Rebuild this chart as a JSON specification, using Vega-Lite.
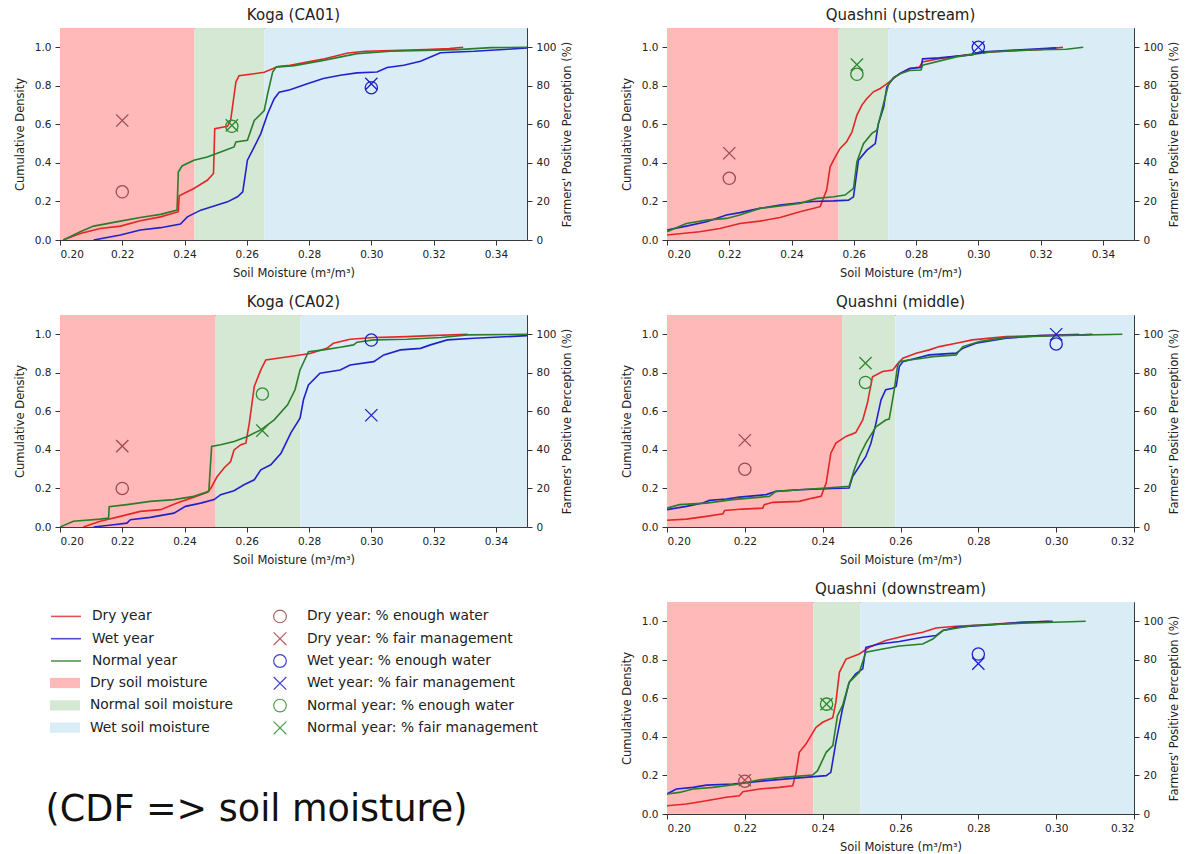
{
  "$schema": "https://vega.github.io/schema/vega-lite/v6.json",
  "background": "white",
  "padding": {"left": 13, "top": 7, "right": 5, "bottom": 5},
  "columns": 2,
  "spacing": {"row": 75, "column": 140},
  "bounds": "flush",
  "datasets": {
    "bands": [
      {"p": "CA01", "b": "Dry soil moisture", "x0": 0.2, "x1": 0.2432},
      {"p": "CA01", "b": "Normal soil moisture", "x0": 0.2432, "x1": 0.2657},
      {"p": "CA01", "b": "Wet soil moisture", "x0": 0.2657, "x1": 0.35},
      {"p": "UP", "b": "Dry soil moisture", "x0": 0.2, "x1": 0.2551},
      {"p": "UP", "b": "Normal soil moisture", "x0": 0.2551, "x1": 0.2711},
      {"p": "UP", "b": "Wet soil moisture", "x0": 0.2711, "x1": 0.35},
      {"p": "CA02", "b": "Dry soil moisture", "x0": 0.2, "x1": 0.25},
      {"p": "CA02", "b": "Normal soil moisture", "x0": 0.25, "x1": 0.2772},
      {"p": "CA02", "b": "Wet soil moisture", "x0": 0.2772, "x1": 0.35},
      {"p": "MID", "b": "Dry soil moisture", "x0": 0.2, "x1": 0.245},
      {"p": "MID", "b": "Normal soil moisture", "x0": 0.245, "x1": 0.2587},
      {"p": "MID", "b": "Wet soil moisture", "x0": 0.2587, "x1": 0.32},
      {"p": "DOWN", "b": "Dry soil moisture", "x0": 0.2, "x1": 0.2376},
      {"p": "DOWN", "b": "Normal soil moisture", "x0": 0.2376, "x1": 0.2497},
      {"p": "DOWN", "b": "Wet soil moisture", "x0": 0.2497, "x1": 0.32}
    ],
    "marks": [
      {"p": "CA01", "m": "Dry year: % enough water", "x": 0.22, "v": 25},
      {"p": "CA01", "m": "Dry year: % fair management", "x": 0.22, "v": 62},
      {"p": "CA01", "m": "Wet year: % enough water", "x": 0.30, "v": 79},
      {"p": "CA01", "m": "Wet year: % fair management", "x": 0.30, "v": 81},
      {"p": "CA01", "m": "Normal year: % enough water", "x": 0.2552, "v": 59},
      {"p": "CA01", "m": "Normal year: % fair management", "x": 0.2552, "v": 59.5},
      {"p": "UP", "m": "Dry year: % enough water", "x": 0.22, "v": 32},
      {"p": "UP", "m": "Dry year: % fair management", "x": 0.22, "v": 45},
      {"p": "UP", "m": "Wet year: % enough water", "x": 0.30, "v": 100},
      {"p": "UP", "m": "Wet year: % fair management", "x": 0.30, "v": 100},
      {"p": "UP", "m": "Normal year: % enough water", "x": 0.261, "v": 86},
      {"p": "UP", "m": "Normal year: % fair management", "x": 0.261, "v": 91},
      {"p": "CA02", "m": "Dry year: % enough water", "x": 0.22, "v": 20},
      {"p": "CA02", "m": "Dry year: % fair management", "x": 0.22, "v": 42},
      {"p": "CA02", "m": "Wet year: % enough water", "x": 0.30, "v": 97},
      {"p": "CA02", "m": "Wet year: % fair management", "x": 0.30, "v": 58},
      {"p": "CA02", "m": "Normal year: % enough water", "x": 0.265, "v": 69},
      {"p": "CA02", "m": "Normal year: % fair management", "x": 0.265, "v": 50},
      {"p": "MID", "m": "Dry year: % enough water", "x": 0.22, "v": 30},
      {"p": "MID", "m": "Dry year: % fair management", "x": 0.22, "v": 45},
      {"p": "MID", "m": "Wet year: % enough water", "x": 0.30, "v": 95},
      {"p": "MID", "m": "Wet year: % fair management", "x": 0.30, "v": 100},
      {"p": "MID", "m": "Normal year: % enough water", "x": 0.251, "v": 75},
      {"p": "MID", "m": "Normal year: % fair management", "x": 0.251, "v": 85},
      {"p": "DOWN", "m": "Dry year: % enough water", "x": 0.22, "v": 17},
      {"p": "DOWN", "m": "Dry year: % fair management", "x": 0.22, "v": 17.5},
      {"p": "DOWN", "m": "Wet year: % enough water", "x": 0.28, "v": 83},
      {"p": "DOWN", "m": "Wet year: % fair management", "x": 0.28, "v": 78},
      {"p": "DOWN", "m": "Normal year: % enough water", "x": 0.241, "v": 57},
      {"p": "DOWN", "m": "Normal year: % fair management", "x": 0.241, "v": 57}
    ],
    "cdf": [
      {"p":"CA01","s":"Dry year","x":0.2010,"y":0},
      {"p":"CA01","s":"Dry year","x":0.2065,"y":0.034},
      {"p":"CA01","s":"Dry year","x":0.2129,"y":0.06},
      {"p":"CA01","s":"Dry year","x":0.2194,"y":0.072},
      {"p":"CA01","s":"Dry year","x":0.2258,"y":0.10},
      {"p":"CA01","s":"Dry year","x":0.2323,"y":0.12},
      {"p":"CA01","s":"Dry year","x":0.2380,"y":0.147},
      {"p":"CA01","s":"Dry year","x":0.2383,"y":0.23},
      {"p":"CA01","s":"Dry year","x":0.2430,"y":0.267},
      {"p":"CA01","s":"Dry year","x":0.2473,"y":0.31},
      {"p":"CA01","s":"Dry year","x":0.2493,"y":0.345},
      {"p":"CA01","s":"Dry year","x":0.2497,"y":0.578},
      {"p":"CA01","s":"Dry year","x":0.2538,"y":0.59},
      {"p":"CA01","s":"Dry year","x":0.2548,"y":0.62},
      {"p":"CA01","s":"Dry year","x":0.2565,"y":0.82},
      {"p":"CA01","s":"Dry year","x":0.2575,"y":0.852},
      {"p":"CA01","s":"Dry year","x":0.2656,"y":0.87},
      {"p":"CA01","s":"Dry year","x":0.2700,"y":0.90},
      {"p":"CA01","s":"Dry year","x":0.2739,"y":0.907},
      {"p":"CA01","s":"Dry year","x":0.2806,"y":0.927},
      {"p":"CA01","s":"Dry year","x":0.2850,"y":0.94},
      {"p":"CA01","s":"Dry year","x":0.2925,"y":0.97},
      {"p":"CA01","s":"Dry year","x":0.2980,"y":0.979},
      {"p":"CA01","s":"Dry year","x":0.3175,"y":0.988},
      {"p":"CA01","s":"Dry year","x":0.3250,"y":0.993},
      {"p":"CA01","s":"Dry year","x":0.3295,"y":1.0},
      {"p":"CA01","s":"Wet year","x":0.2108,"y":0},
      {"p":"CA01","s":"Wet year","x":0.2194,"y":0.026},
      {"p":"CA01","s":"Wet year","x":0.2258,"y":0.052},
      {"p":"CA01","s":"Wet year","x":0.2323,"y":0.064},
      {"p":"CA01","s":"Wet year","x":0.2387,"y":0.083},
      {"p":"CA01","s":"Wet year","x":0.2409,"y":0.12},
      {"p":"CA01","s":"Wet year","x":0.2452,"y":0.155},
      {"p":"CA01","s":"Wet year","x":0.2495,"y":0.176},
      {"p":"CA01","s":"Wet year","x":0.2538,"y":0.198},
      {"p":"CA01","s":"Wet year","x":0.2570,"y":0.224},
      {"p":"CA01","s":"Wet year","x":0.2587,"y":0.25},
      {"p":"CA01","s":"Wet year","x":0.2602,"y":0.414},
      {"p":"CA01","s":"Wet year","x":0.2624,"y":0.483},
      {"p":"CA01","s":"Wet year","x":0.2645,"y":0.552},
      {"p":"CA01","s":"Wet year","x":0.2667,"y":0.655},
      {"p":"CA01","s":"Wet year","x":0.2688,"y":0.733},
      {"p":"CA01","s":"Wet year","x":0.2704,"y":0.767},
      {"p":"CA01","s":"Wet year","x":0.2739,"y":0.78},
      {"p":"CA01","s":"Wet year","x":0.2792,"y":0.81},
      {"p":"CA01","s":"Wet year","x":0.2846,"y":0.838},
      {"p":"CA01","s":"Wet year","x":0.2900,"y":0.855},
      {"p":"CA01","s":"Wet year","x":0.2954,"y":0.867},
      {"p":"CA01","s":"Wet year","x":0.3018,"y":0.872},
      {"p":"CA01","s":"Wet year","x":0.3051,"y":0.895},
      {"p":"CA01","s":"Wet year","x":0.3104,"y":0.907},
      {"p":"CA01","s":"Wet year","x":0.3158,"y":0.927},
      {"p":"CA01","s":"Wet year","x":0.3190,"y":0.95},
      {"p":"CA01","s":"Wet year","x":0.3222,"y":0.972},
      {"p":"CA01","s":"Wet year","x":0.3330,"y":0.979},
      {"p":"CA01","s":"Wet year","x":0.3438,"y":0.99},
      {"p":"CA01","s":"Wet year","x":0.3500,"y":0.997},
      {"p":"CA01","s":"Normal year","x":0.2011,"y":0},
      {"p":"CA01","s":"Normal year","x":0.2065,"y":0.043},
      {"p":"CA01","s":"Normal year","x":0.2108,"y":0.072},
      {"p":"CA01","s":"Normal year","x":0.2194,"y":0.098},
      {"p":"CA01","s":"Normal year","x":0.2258,"y":0.117},
      {"p":"CA01","s":"Normal year","x":0.2323,"y":0.133},
      {"p":"CA01","s":"Normal year","x":0.2376,"y":0.155},
      {"p":"CA01","s":"Normal year","x":0.2380,"y":0.353},
      {"p":"CA01","s":"Normal year","x":0.2392,"y":0.384},
      {"p":"CA01","s":"Normal year","x":0.2430,"y":0.414},
      {"p":"CA01","s":"Normal year","x":0.2473,"y":0.431},
      {"p":"CA01","s":"Normal year","x":0.2516,"y":0.457},
      {"p":"CA01","s":"Normal year","x":0.2559,"y":0.483},
      {"p":"CA01","s":"Normal year","x":0.2565,"y":0.509},
      {"p":"CA01","s":"Normal year","x":0.2602,"y":0.517},
      {"p":"CA01","s":"Normal year","x":0.2624,"y":0.62},
      {"p":"CA01","s":"Normal year","x":0.2656,"y":0.672},
      {"p":"CA01","s":"Normal year","x":0.2667,"y":0.759},
      {"p":"CA01","s":"Normal year","x":0.2683,"y":0.871},
      {"p":"CA01","s":"Normal year","x":0.2694,"y":0.897},
      {"p":"CA01","s":"Normal year","x":0.2753,"y":0.905},
      {"p":"CA01","s":"Normal year","x":0.2846,"y":0.932},
      {"p":"CA01","s":"Normal year","x":0.2954,"y":0.967},
      {"p":"CA01","s":"Normal year","x":0.3061,"y":0.979},
      {"p":"CA01","s":"Normal year","x":0.3276,"y":0.988},
      {"p":"CA01","s":"Normal year","x":0.3384,"y":0.998},
      {"p":"CA01","s":"Normal year","x":0.3500,"y":1.0},
      {"p":"UP","s":"Dry year","x":0.2000,"y":0.026},
      {"p":"UP","s":"Dry year","x":0.2105,"y":0.043},
      {"p":"UP","s":"Dry year","x":0.2170,"y":0.06},
      {"p":"UP","s":"Dry year","x":0.2234,"y":0.086},
      {"p":"UP","s":"Dry year","x":0.2298,"y":0.098},
      {"p":"UP","s":"Dry year","x":0.2363,"y":0.117},
      {"p":"UP","s":"Dry year","x":0.2427,"y":0.147},
      {"p":"UP","s":"Dry year","x":0.2492,"y":0.173},
      {"p":"UP","s":"Dry year","x":0.2513,"y":0.26},
      {"p":"UP","s":"Dry year","x":0.2524,"y":0.38},
      {"p":"UP","s":"Dry year","x":0.2540,"y":0.43},
      {"p":"UP","s":"Dry year","x":0.2556,"y":0.475},
      {"p":"UP","s":"Dry year","x":0.2577,"y":0.51},
      {"p":"UP","s":"Dry year","x":0.2594,"y":0.56},
      {"p":"UP","s":"Dry year","x":0.2610,"y":0.648},
      {"p":"UP","s":"Dry year","x":0.2626,"y":0.70},
      {"p":"UP","s":"Dry year","x":0.2642,"y":0.734},
      {"p":"UP","s":"Dry year","x":0.2663,"y":0.769},
      {"p":"UP","s":"Dry year","x":0.2685,"y":0.786},
      {"p":"UP","s":"Dry year","x":0.2706,"y":0.81},
      {"p":"UP","s":"Dry year","x":0.2728,"y":0.838},
      {"p":"UP","s":"Dry year","x":0.2749,"y":0.864},
      {"p":"UP","s":"Dry year","x":0.2779,"y":0.89},
      {"p":"UP","s":"Dry year","x":0.2811,"y":0.898},
      {"p":"UP","s":"Dry year","x":0.2821,"y":0.924},
      {"p":"UP","s":"Dry year","x":0.2875,"y":0.941},
      {"p":"UP","s":"Dry year","x":0.2929,"y":0.953},
      {"p":"UP","s":"Dry year","x":0.3004,"y":0.97},
      {"p":"UP","s":"Dry year","x":0.3090,"y":0.981},
      {"p":"UP","s":"Dry year","x":0.3197,"y":0.988},
      {"p":"UP","s":"Dry year","x":0.3272,"y":1.0},
      {"p":"UP","s":"Wet year","x":0.2000,"y":0.052},
      {"p":"UP","s":"Wet year","x":0.2062,"y":0.072},
      {"p":"UP","s":"Wet year","x":0.2127,"y":0.095},
      {"p":"UP","s":"Wet year","x":0.2191,"y":0.13},
      {"p":"UP","s":"Wet year","x":0.2234,"y":0.142},
      {"p":"UP","s":"Wet year","x":0.2298,"y":0.164},
      {"p":"UP","s":"Wet year","x":0.2363,"y":0.181},
      {"p":"UP","s":"Wet year","x":0.2427,"y":0.193},
      {"p":"UP","s":"Wet year","x":0.2470,"y":0.20},
      {"p":"UP","s":"Wet year","x":0.2535,"y":0.203},
      {"p":"UP","s":"Wet year","x":0.2583,"y":0.207},
      {"p":"UP","s":"Wet year","x":0.2599,"y":0.224},
      {"p":"UP","s":"Wet year","x":0.2615,"y":0.414},
      {"p":"UP","s":"Wet year","x":0.2642,"y":0.466},
      {"p":"UP","s":"Wet year","x":0.2669,"y":0.50},
      {"p":"UP","s":"Wet year","x":0.2679,"y":0.604},
      {"p":"UP","s":"Wet year","x":0.2696,"y":0.69},
      {"p":"UP","s":"Wet year","x":0.2706,"y":0.794},
      {"p":"UP","s":"Wet year","x":0.2728,"y":0.843},
      {"p":"UP","s":"Wet year","x":0.2749,"y":0.864},
      {"p":"UP","s":"Wet year","x":0.2779,"y":0.89},
      {"p":"UP","s":"Wet year","x":0.2816,"y":0.895},
      {"p":"UP","s":"Wet year","x":0.2821,"y":0.94},
      {"p":"UP","s":"Wet year","x":0.2875,"y":0.945},
      {"p":"UP","s":"Wet year","x":0.2982,"y":0.962},
      {"p":"UP","s":"Wet year","x":0.3004,"y":0.975},
      {"p":"UP","s":"Wet year","x":0.3090,"y":0.983},
      {"p":"UP","s":"Wet year","x":0.3251,"y":0.997},
      {"p":"UP","s":"Normal year","x":0.2000,"y":0.043},
      {"p":"UP","s":"Normal year","x":0.2062,"y":0.086},
      {"p":"UP","s":"Normal year","x":0.2127,"y":0.103},
      {"p":"UP","s":"Normal year","x":0.2191,"y":0.112},
      {"p":"UP","s":"Normal year","x":0.2234,"y":0.13},
      {"p":"UP","s":"Normal year","x":0.2298,"y":0.164},
      {"p":"UP","s":"Normal year","x":0.2363,"y":0.176},
      {"p":"UP","s":"Normal year","x":0.2427,"y":0.19},
      {"p":"UP","s":"Normal year","x":0.2481,"y":0.216},
      {"p":"UP","s":"Normal year","x":0.2535,"y":0.224},
      {"p":"UP","s":"Normal year","x":0.2572,"y":0.233},
      {"p":"UP","s":"Normal year","x":0.2599,"y":0.268},
      {"p":"UP","s":"Normal year","x":0.2610,"y":0.406},
      {"p":"UP","s":"Normal year","x":0.2631,"y":0.50},
      {"p":"UP","s":"Normal year","x":0.2658,"y":0.553},
      {"p":"UP","s":"Normal year","x":0.2674,"y":0.57},
      {"p":"UP","s":"Normal year","x":0.2690,"y":0.674},
      {"p":"UP","s":"Normal year","x":0.2701,"y":0.743},
      {"p":"UP","s":"Normal year","x":0.2712,"y":0.81},
      {"p":"UP","s":"Normal year","x":0.2728,"y":0.843},
      {"p":"UP","s":"Normal year","x":0.2749,"y":0.862},
      {"p":"UP","s":"Normal year","x":0.2779,"y":0.88},
      {"p":"UP","s":"Normal year","x":0.2816,"y":0.882},
      {"p":"UP","s":"Normal year","x":0.2821,"y":0.907},
      {"p":"UP","s":"Normal year","x":0.2929,"y":0.95},
      {"p":"UP","s":"Normal year","x":0.3036,"y":0.976},
      {"p":"UP","s":"Normal year","x":0.3197,"y":0.988},
      {"p":"UP","s":"Normal year","x":0.3283,"y":0.99},
      {"p":"UP","s":"Normal year","x":0.3337,"y":1.0},
      {"p":"CA02","s":"Dry year","x":0.2075,"y":0},
      {"p":"CA02","s":"Dry year","x":0.2129,"y":0.03},
      {"p":"CA02","s":"Dry year","x":0.2194,"y":0.055},
      {"p":"CA02","s":"Dry year","x":0.2258,"y":0.081},
      {"p":"CA02","s":"Dry year","x":0.2323,"y":0.09},
      {"p":"CA02","s":"Dry year","x":0.2376,"y":0.124},
      {"p":"CA02","s":"Dry year","x":0.2430,"y":0.155},
      {"p":"CA02","s":"Dry year","x":0.2473,"y":0.18},
      {"p":"CA02","s":"Dry year","x":0.2484,"y":0.20},
      {"p":"CA02","s":"Dry year","x":0.2505,"y":0.262},
      {"p":"CA02","s":"Dry year","x":0.2527,"y":0.306},
      {"p":"CA02","s":"Dry year","x":0.2548,"y":0.34},
      {"p":"CA02","s":"Dry year","x":0.2559,"y":0.40},
      {"p":"CA02","s":"Dry year","x":0.2581,"y":0.427},
      {"p":"CA02","s":"Dry year","x":0.2597,"y":0.435},
      {"p":"CA02","s":"Dry year","x":0.2608,"y":0.539},
      {"p":"CA02","s":"Dry year","x":0.2624,"y":0.729},
      {"p":"CA02","s":"Dry year","x":0.2645,"y":0.815},
      {"p":"CA02","s":"Dry year","x":0.2661,"y":0.867},
      {"p":"CA02","s":"Dry year","x":0.2699,"y":0.876},
      {"p":"CA02","s":"Dry year","x":0.2739,"y":0.885},
      {"p":"CA02","s":"Dry year","x":0.2803,"y":0.90},
      {"p":"CA02","s":"Dry year","x":0.2857,"y":0.927},
      {"p":"CA02","s":"Dry year","x":0.2878,"y":0.953},
      {"p":"CA02","s":"Dry year","x":0.2932,"y":0.974},
      {"p":"CA02","s":"Dry year","x":0.3008,"y":0.983},
      {"p":"CA02","s":"Dry year","x":0.3115,"y":0.988},
      {"p":"CA02","s":"Dry year","x":0.3190,"y":0.993},
      {"p":"CA02","s":"Dry year","x":0.3309,"y":1.0},
      {"p":"CA02","s":"Wet year","x":0.2108,"y":0},
      {"p":"CA02","s":"Wet year","x":0.2172,"y":0.012},
      {"p":"CA02","s":"Wet year","x":0.2215,"y":0.02},
      {"p":"CA02","s":"Wet year","x":0.2226,"y":0.038},
      {"p":"CA02","s":"Wet year","x":0.2290,"y":0.05},
      {"p":"CA02","s":"Wet year","x":0.2366,"y":0.072},
      {"p":"CA02","s":"Wet year","x":0.2403,"y":0.107},
      {"p":"CA02","s":"Wet year","x":0.2452,"y":0.124},
      {"p":"CA02","s":"Wet year","x":0.2495,"y":0.142},
      {"p":"CA02","s":"Wet year","x":0.2516,"y":0.168},
      {"p":"CA02","s":"Wet year","x":0.2559,"y":0.188},
      {"p":"CA02","s":"Wet year","x":0.2591,"y":0.219},
      {"p":"CA02","s":"Wet year","x":0.2624,"y":0.245},
      {"p":"CA02","s":"Wet year","x":0.2645,"y":0.297},
      {"p":"CA02","s":"Wet year","x":0.2677,"y":0.323},
      {"p":"CA02","s":"Wet year","x":0.2710,"y":0.383},
      {"p":"CA02","s":"Wet year","x":0.2742,"y":0.49},
      {"p":"CA02","s":"Wet year","x":0.2771,"y":0.565},
      {"p":"CA02","s":"Wet year","x":0.2782,"y":0.66},
      {"p":"CA02","s":"Wet year","x":0.2798,"y":0.737},
      {"p":"CA02","s":"Wet year","x":0.2835,"y":0.798},
      {"p":"CA02","s":"Wet year","x":0.2900,"y":0.815},
      {"p":"CA02","s":"Wet year","x":0.2932,"y":0.841},
      {"p":"CA02","s":"Wet year","x":0.3008,"y":0.858},
      {"p":"CA02","s":"Wet year","x":0.3040,"y":0.893},
      {"p":"CA02","s":"Wet year","x":0.3094,"y":0.919},
      {"p":"CA02","s":"Wet year","x":0.3158,"y":0.927},
      {"p":"CA02","s":"Wet year","x":0.3190,"y":0.945},
      {"p":"CA02","s":"Wet year","x":0.3244,"y":0.971},
      {"p":"CA02","s":"Wet year","x":0.3330,"y":0.979},
      {"p":"CA02","s":"Wet year","x":0.3500,"y":0.993},
      {"p":"CA02","s":"Normal year","x":0.2000,"y":0},
      {"p":"CA02","s":"Normal year","x":0.2043,"y":0.03},
      {"p":"CA02","s":"Normal year","x":0.2129,"y":0.041},
      {"p":"CA02","s":"Normal year","x":0.2156,"y":0.047},
      {"p":"CA02","s":"Normal year","x":0.2158,"y":0.105},
      {"p":"CA02","s":"Normal year","x":0.2215,"y":0.116},
      {"p":"CA02","s":"Normal year","x":0.2290,"y":0.133},
      {"p":"CA02","s":"Normal year","x":0.2366,"y":0.142},
      {"p":"CA02","s":"Normal year","x":0.2430,"y":0.159},
      {"p":"CA02","s":"Normal year","x":0.2478,"y":0.185},
      {"p":"CA02","s":"Normal year","x":0.2487,"y":0.418},
      {"p":"CA02","s":"Normal year","x":0.2516,"y":0.427},
      {"p":"CA02","s":"Normal year","x":0.2559,"y":0.444},
      {"p":"CA02","s":"Normal year","x":0.2602,"y":0.47},
      {"p":"CA02","s":"Normal year","x":0.2645,"y":0.504},
      {"p":"CA02","s":"Normal year","x":0.2688,"y":0.556},
      {"p":"CA02","s":"Normal year","x":0.2731,"y":0.634},
      {"p":"CA02","s":"Normal year","x":0.2755,"y":0.712},
      {"p":"CA02","s":"Normal year","x":0.2771,"y":0.815},
      {"p":"CA02","s":"Normal year","x":0.2798,"y":0.91},
      {"p":"CA02","s":"Normal year","x":0.2846,"y":0.919},
      {"p":"CA02","s":"Normal year","x":0.2900,"y":0.933},
      {"p":"CA02","s":"Normal year","x":0.2943,"y":0.945},
      {"p":"CA02","s":"Normal year","x":0.2954,"y":0.959},
      {"p":"CA02","s":"Normal year","x":0.3008,"y":0.971},
      {"p":"CA02","s":"Normal year","x":0.3115,"y":0.974},
      {"p":"CA02","s":"Normal year","x":0.3223,"y":0.983},
      {"p":"CA02","s":"Normal year","x":0.3309,"y":0.997},
      {"p":"CA02","s":"Normal year","x":0.3500,"y":1.0},
      {"p":"MID","s":"Dry year","x":0.2000,"y":0.035},
      {"p":"MID","s":"Dry year","x":0.2050,"y":0.041},
      {"p":"MID","s":"Dry year","x":0.2101,"y":0.055},
      {"p":"MID","s":"Dry year","x":0.2144,"y":0.069},
      {"p":"MID","s":"Dry year","x":0.2148,"y":0.086},
      {"p":"MID","s":"Dry year","x":0.2195,"y":0.093},
      {"p":"MID","s":"Dry year","x":0.2246,"y":0.098},
      {"p":"MID","s":"Dry year","x":0.2250,"y":0.116},
      {"p":"MID","s":"Dry year","x":0.2272,"y":0.128},
      {"p":"MID","s":"Dry year","x":0.2340,"y":0.133},
      {"p":"MID","s":"Dry year","x":0.2374,"y":0.15},
      {"p":"MID","s":"Dry year","x":0.2396,"y":0.159},
      {"p":"MID","s":"Dry year","x":0.2409,"y":0.228},
      {"p":"MID","s":"Dry year","x":0.2421,"y":0.383},
      {"p":"MID","s":"Dry year","x":0.2434,"y":0.435},
      {"p":"MID","s":"Dry year","x":0.2460,"y":0.47},
      {"p":"MID","s":"Dry year","x":0.2485,"y":0.49},
      {"p":"MID","s":"Dry year","x":0.2503,"y":0.556},
      {"p":"MID","s":"Dry year","x":0.2515,"y":0.643},
      {"p":"MID","s":"Dry year","x":0.2528,"y":0.78},
      {"p":"MID","s":"Dry year","x":0.2554,"y":0.807},
      {"p":"MID","s":"Dry year","x":0.2580,"y":0.815},
      {"p":"MID","s":"Dry year","x":0.2592,"y":0.845},
      {"p":"MID","s":"Dry year","x":0.2606,"y":0.876},
      {"p":"MID","s":"Dry year","x":0.2640,"y":0.902},
      {"p":"MID","s":"Dry year","x":0.2674,"y":0.919},
      {"p":"MID","s":"Dry year","x":0.2700,"y":0.936},
      {"p":"MID","s":"Dry year","x":0.2743,"y":0.953},
      {"p":"MID","s":"Dry year","x":0.2785,"y":0.971},
      {"p":"MID","s":"Dry year","x":0.2871,"y":0.988},
      {"p":"MID","s":"Dry year","x":0.2965,"y":0.993},
      {"p":"MID","s":"Dry year","x":0.3059,"y":1.0},
      {"p":"MID","s":"Wet year","x":0.2000,"y":0.09},
      {"p":"MID","s":"Wet year","x":0.2050,"y":0.107},
      {"p":"MID","s":"Wet year","x":0.2092,"y":0.124},
      {"p":"MID","s":"Wet year","x":0.2109,"y":0.138},
      {"p":"MID","s":"Wet year","x":0.2152,"y":0.145},
      {"p":"MID","s":"Wet year","x":0.2186,"y":0.155},
      {"p":"MID","s":"Wet year","x":0.2255,"y":0.168},
      {"p":"MID","s":"Wet year","x":0.2280,"y":0.185},
      {"p":"MID","s":"Wet year","x":0.2340,"y":0.193},
      {"p":"MID","s":"Wet year","x":0.2426,"y":0.20},
      {"p":"MID","s":"Wet year","x":0.2468,"y":0.202},
      {"p":"MID","s":"Wet year","x":0.2477,"y":0.262},
      {"p":"MID","s":"Wet year","x":0.2494,"y":0.314},
      {"p":"MID","s":"Wet year","x":0.2511,"y":0.366},
      {"p":"MID","s":"Wet year","x":0.2524,"y":0.435},
      {"p":"MID","s":"Wet year","x":0.2537,"y":0.539},
      {"p":"MID","s":"Wet year","x":0.2550,"y":0.66},
      {"p":"MID","s":"Wet year","x":0.2562,"y":0.712},
      {"p":"MID","s":"Wet year","x":0.2580,"y":0.72},
      {"p":"MID","s":"Wet year","x":0.2589,"y":0.73},
      {"p":"MID","s":"Wet year","x":0.2597,"y":0.832},
      {"p":"MID","s":"Wet year","x":0.2606,"y":0.858},
      {"p":"MID","s":"Wet year","x":0.2640,"y":0.876},
      {"p":"MID","s":"Wet year","x":0.2674,"y":0.893},
      {"p":"MID","s":"Wet year","x":0.2743,"y":0.902},
      {"p":"MID","s":"Wet year","x":0.2760,"y":0.927},
      {"p":"MID","s":"Wet year","x":0.2794,"y":0.953},
      {"p":"MID","s":"Wet year","x":0.2871,"y":0.979},
      {"p":"MID","s":"Wet year","x":0.2956,"y":0.993},
      {"p":"MID","s":"Wet year","x":0.3068,"y":0.997},
      {"p":"MID","s":"Wet year","x":0.3093,"y":1.0},
      {"p":"MID","s":"Normal year","x":0.2000,"y":0.098},
      {"p":"MID","s":"Normal year","x":0.2032,"y":0.116},
      {"p":"MID","s":"Normal year","x":0.2101,"y":0.124},
      {"p":"MID","s":"Normal year","x":0.2135,"y":0.133},
      {"p":"MID","s":"Normal year","x":0.2169,"y":0.142},
      {"p":"MID","s":"Normal year","x":0.2212,"y":0.15},
      {"p":"MID","s":"Normal year","x":0.2263,"y":0.159},
      {"p":"MID","s":"Normal year","x":0.2280,"y":0.185},
      {"p":"MID","s":"Normal year","x":0.2340,"y":0.193},
      {"p":"MID","s":"Normal year","x":0.2409,"y":0.202},
      {"p":"MID","s":"Normal year","x":0.2468,"y":0.211},
      {"p":"MID","s":"Normal year","x":0.2481,"y":0.297},
      {"p":"MID","s":"Normal year","x":0.2494,"y":0.366},
      {"p":"MID","s":"Normal year","x":0.2511,"y":0.435},
      {"p":"MID","s":"Normal year","x":0.2537,"y":0.52},
      {"p":"MID","s":"Normal year","x":0.2562,"y":0.555},
      {"p":"MID","s":"Normal year","x":0.2571,"y":0.56},
      {"p":"MID","s":"Normal year","x":0.2584,"y":0.712},
      {"p":"MID","s":"Normal year","x":0.2592,"y":0.832},
      {"p":"MID","s":"Normal year","x":0.2597,"y":0.858},
      {"p":"MID","s":"Normal year","x":0.2623,"y":0.867},
      {"p":"MID","s":"Normal year","x":0.2657,"y":0.876},
      {"p":"MID","s":"Normal year","x":0.2683,"y":0.884},
      {"p":"MID","s":"Normal year","x":0.2743,"y":0.893},
      {"p":"MID","s":"Normal year","x":0.2760,"y":0.936},
      {"p":"MID","s":"Normal year","x":0.2803,"y":0.962},
      {"p":"MID","s":"Normal year","x":0.2871,"y":0.984},
      {"p":"MID","s":"Normal year","x":0.2999,"y":0.993},
      {"p":"MID","s":"Normal year","x":0.3170,"y":1.0},
      {"p":"DOWN","s":"Dry year","x":0.2000,"y":0.043},
      {"p":"DOWN","s":"Dry year","x":0.2050,"y":0.052},
      {"p":"DOWN","s":"Dry year","x":0.2101,"y":0.069},
      {"p":"DOWN","s":"Dry year","x":0.2152,"y":0.087},
      {"p":"DOWN","s":"Dry year","x":0.2186,"y":0.095},
      {"p":"DOWN","s":"Dry year","x":0.2195,"y":0.116},
      {"p":"DOWN","s":"Dry year","x":0.2238,"y":0.13},
      {"p":"DOWN","s":"Dry year","x":0.2289,"y":0.138},
      {"p":"DOWN","s":"Dry year","x":0.2323,"y":0.147},
      {"p":"DOWN","s":"Dry year","x":0.2332,"y":0.216},
      {"p":"DOWN","s":"Dry year","x":0.2340,"y":0.32},
      {"p":"DOWN","s":"Dry year","x":0.2357,"y":0.363},
      {"p":"DOWN","s":"Dry year","x":0.2370,"y":0.407},
      {"p":"DOWN","s":"Dry year","x":0.2383,"y":0.45},
      {"p":"DOWN","s":"Dry year","x":0.2400,"y":0.476},
      {"p":"DOWN","s":"Dry year","x":0.2426,"y":0.50},
      {"p":"DOWN","s":"Dry year","x":0.2434,"y":0.58},
      {"p":"DOWN","s":"Dry year","x":0.2443,"y":0.735},
      {"p":"DOWN","s":"Dry year","x":0.2460,"y":0.804},
      {"p":"DOWN","s":"Dry year","x":0.2494,"y":0.83},
      {"p":"DOWN","s":"Dry year","x":0.2520,"y":0.865},
      {"p":"DOWN","s":"Dry year","x":0.2562,"y":0.90},
      {"p":"DOWN","s":"Dry year","x":0.2615,"y":0.926},
      {"p":"DOWN","s":"Dry year","x":0.2657,"y":0.943},
      {"p":"DOWN","s":"Dry year","x":0.2691,"y":0.965},
      {"p":"DOWN","s":"Dry year","x":0.2743,"y":0.974},
      {"p":"DOWN","s":"Dry year","x":0.2803,"y":0.981},
      {"p":"DOWN","s":"Dry year","x":0.2914,"y":0.995},
      {"p":"DOWN","s":"Dry year","x":0.2982,"y":1.0},
      {"p":"DOWN","s":"Wet year","x":0.2000,"y":0.104},
      {"p":"DOWN","s":"Wet year","x":0.2024,"y":0.13},
      {"p":"DOWN","s":"Wet year","x":0.2067,"y":0.138},
      {"p":"DOWN","s":"Wet year","x":0.2101,"y":0.15},
      {"p":"DOWN","s":"Wet year","x":0.2169,"y":0.156},
      {"p":"DOWN","s":"Wet year","x":0.2255,"y":0.173},
      {"p":"DOWN","s":"Wet year","x":0.2323,"y":0.185},
      {"p":"DOWN","s":"Wet year","x":0.2409,"y":0.199},
      {"p":"DOWN","s":"Wet year","x":0.2421,"y":0.216},
      {"p":"DOWN","s":"Wet year","x":0.2434,"y":0.372},
      {"p":"DOWN","s":"Wet year","x":0.2451,"y":0.545},
      {"p":"DOWN","s":"Wet year","x":0.2468,"y":0.683},
      {"p":"DOWN","s":"Wet year","x":0.2485,"y":0.727},
      {"p":"DOWN","s":"Wet year","x":0.2503,"y":0.753},
      {"p":"DOWN","s":"Wet year","x":0.2511,"y":0.865},
      {"p":"DOWN","s":"Wet year","x":0.2545,"y":0.882},
      {"p":"DOWN","s":"Wet year","x":0.2597,"y":0.895},
      {"p":"DOWN","s":"Wet year","x":0.2657,"y":0.917},
      {"p":"DOWN","s":"Wet year","x":0.2691,"y":0.926},
      {"p":"DOWN","s":"Wet year","x":0.2709,"y":0.952},
      {"p":"DOWN","s":"Wet year","x":0.2743,"y":0.969},
      {"p":"DOWN","s":"Wet year","x":0.2828,"y":0.981},
      {"p":"DOWN","s":"Wet year","x":0.2914,"y":0.995},
      {"p":"DOWN","s":"Wet year","x":0.2991,"y":1.0},
      {"p":"DOWN","s":"Normal year","x":0.2000,"y":0.104},
      {"p":"DOWN","s":"Normal year","x":0.2032,"y":0.112},
      {"p":"DOWN","s":"Normal year","x":0.2067,"y":0.13},
      {"p":"DOWN","s":"Normal year","x":0.2118,"y":0.138},
      {"p":"DOWN","s":"Normal year","x":0.2186,"y":0.156},
      {"p":"DOWN","s":"Normal year","x":0.2238,"y":0.178},
      {"p":"DOWN","s":"Normal year","x":0.2297,"y":0.19},
      {"p":"DOWN","s":"Normal year","x":0.2374,"y":0.202},
      {"p":"DOWN","s":"Normal year","x":0.2387,"y":0.225},
      {"p":"DOWN","s":"Normal year","x":0.2409,"y":0.32},
      {"p":"DOWN","s":"Normal year","x":0.2426,"y":0.355},
      {"p":"DOWN","s":"Normal year","x":0.2438,"y":0.51},
      {"p":"DOWN","s":"Normal year","x":0.2451,"y":0.562},
      {"p":"DOWN","s":"Normal year","x":0.2468,"y":0.683},
      {"p":"DOWN","s":"Normal year","x":0.2494,"y":0.735},
      {"p":"DOWN","s":"Normal year","x":0.2511,"y":0.839},
      {"p":"DOWN","s":"Normal year","x":0.2554,"y":0.856},
      {"p":"DOWN","s":"Normal year","x":0.2597,"y":0.872},
      {"p":"DOWN","s":"Normal year","x":0.2657,"y":0.882},
      {"p":"DOWN","s":"Normal year","x":0.2683,"y":0.908},
      {"p":"DOWN","s":"Normal year","x":0.2709,"y":0.952},
      {"p":"DOWN","s":"Normal year","x":0.2785,"y":0.978},
      {"p":"DOWN","s":"Normal year","x":0.2914,"y":0.99},
      {"p":"DOWN","s":"Normal year","x":0.3076,"y":1.0}
    ]
  },
  "concat": [
    {
      "title": "Koga (CA01)", "width": 467, "height": 212,
      "layer": [
        {"data": {"name": "bands"}, "transform": [{"filter": "datum.p == 'CA01'"}], "mark": {"type": "rect"},
         "encoding": {
           "x": {"field": "x0", "type": "quantitative", "scale": {"domain": [0.2, 0.35], "nice": false, "zero": false},
                 "axis": {"title": "Soil Moisture (m³/m³)", "values": [0.2,0.22,0.24,0.26,0.28,0.3,0.32,0.34], "format": ".2f"}},
           "x2": {"field": "x1"},
           "fill": {"field": "b", "type": "nominal", "scale": {"domain": ["Dry soil moisture","Normal soil moisture","Wet soil moisture"], "range": ["#ffb9b9","#d5e8d4","#daedf7"]},
                    "legend": {"title": null, "orient": "none", "legendX": -10, "legendY": 647, "symbolType": "M-1,-0.34H1V0.34H-1Z", "symbolSize": 900, "symbolStrokeWidth": 0, "labelOffset": 10, "rowPadding": 6.3, "clipHeight": 16}}
         }},
        {"data": {"name": "cdf"}, "transform": [{"filter": "datum.p == 'CA01'"}], "mark": {"type": "line", "strokeWidth": 1.6, "clip": true},
         "encoding": {
           "x": {"field": "x", "type": "quantitative", "scale": {"domain": [0.2, 0.35], "nice": false, "zero": false}},
           "y": {"field": "y", "type": "quantitative", "scale": {"domain": [0, 1.1], "nice": false}, "axis": {"title": "Cumulative Density", "orient": "left", "values": [0,0.2,0.4,0.6,0.8,1], "format": ".1f", "titlePadding": 9}},
           "stroke": {"field": "s", "type": "nominal", "scale": {"domain": ["Dry year","Wet year","Normal year"], "range": ["#e32626","#2222cc","#2a7d2a"]},
                      "legend": {"title": null, "orient": "none", "legendX": -10, "legendY": 580.4, "symbolType": "stroke", "symbolSize": 900, "symbolStrokeWidth": 1.6, "symbolOpacity": 0.8, "labelOffset": 10, "rowPadding": 6.3, "clipHeight": 16}}
         }},
        {"data": {"name": "marks"}, "transform": [{"filter": "datum.p == 'CA01'"}], "mark": {"type": "point", "filled": false, "size": 150, "strokeWidth": 1.3, "opacity": 1, "clip": true},
         "encoding": {
           "x": {"field": "x", "type": "quantitative", "scale": {"domain": [0.2, 0.35], "nice": false, "zero": false}},
           "y": {"field": "v", "type": "quantitative", "scale": {"domain": [0, 110], "nice": false}, "axis": {"title": "Farmers' Positive Perception (%)", "orient": "right", "values": [0,20,40,60,80,100], "titleAngle": 270, "titleBaseline": "top", "titlePadding": 5}},
           "color": {"field": "m", "type": "nominal", "scale": {"domain": ["Dry year: % enough water","Dry year: % fair management","Wet year: % enough water","Wet year: % fair management","Normal year: % enough water","Normal year: % fair management"], "range": ["#a5484b","#a5484b","#2020c8","#2020c8","#2e8b2e","#2e8b2e"]},
                     "legend": {"title": null, "orient": "none", "legendX": 213, "legendY": 580.4, "symbolSize": 160, "symbolStrokeWidth": 1.2, "symbolOpacity": 0.85, "labelOffset": 20, "rowPadding": 6.3, "clipHeight": 16}},
           "shape": {"field": "m", "type": "nominal", "scale": {"domain": ["Dry year: % enough water","Dry year: % fair management","Wet year: % enough water","Wet year: % fair management","Normal year: % enough water","Normal year: % fair management"], "range": ["circle","M-1,-1L1,1M1,-1L-1,1","circle","M-1,-1L1,1M1,-1L-1,1","circle","M-1,-1L1,1M1,-1L-1,1"]},
                     "legend": {"title": null, "orient": "none", "legendX": 213, "legendY": 580.4, "symbolSize": 160, "symbolStrokeWidth": 1.2, "symbolOpacity": 0.85, "labelOffset": 20, "rowPadding": 6.3, "clipHeight": 16}}
         }}
      ],
      "resolve": {"scale": {"y": "independent"}}
    },
    {
      "title": "Quashni (upstream)", "width": 467, "height": 212,
      "layer": [
        {"data": {"name": "bands"}, "transform": [{"filter": "datum.p == 'UP'"}], "mark": {"type": "rect"},
         "encoding": {
           "x": {"field": "x0", "type": "quantitative", "scale": {"domain": [0.2, 0.35], "nice": false, "zero": false},
                 "axis": {"title": "Soil Moisture (m³/m³)", "values": [0.2,0.22,0.24,0.26,0.28,0.3,0.32,0.34], "format": ".2f"}},
           "x2": {"field": "x1"},
           "fill": {"field": "b", "type": "nominal", "scale": {"domain": ["Dry soil moisture","Normal soil moisture","Wet soil moisture"], "range": ["#ffb9b9","#d5e8d4","#daedf7"]}}
         }},
        {"data": {"name": "cdf"}, "transform": [{"filter": "datum.p == 'UP'"}], "mark": {"type": "line", "strokeWidth": 1.6, "clip": true},
         "encoding": {
           "x": {"field": "x", "type": "quantitative", "scale": {"domain": [0.2, 0.35], "nice": false, "zero": false}},
           "y": {"field": "y", "type": "quantitative", "scale": {"domain": [0, 1.1], "nice": false}, "axis": {"title": "Cumulative Density", "orient": "left", "values": [0,0.2,0.4,0.6,0.8,1], "format": ".1f", "titlePadding": 9}},
           "stroke": {"field": "s", "type": "nominal", "scale": {"domain": ["Dry year","Wet year","Normal year"], "range": ["#e32626","#2222cc","#2a7d2a"]}}
         }},
        {"data": {"name": "marks"}, "transform": [{"filter": "datum.p == 'UP'"}], "mark": {"type": "point", "filled": false, "size": 150, "strokeWidth": 1.3, "opacity": 1, "clip": true},
         "encoding": {
           "x": {"field": "x", "type": "quantitative", "scale": {"domain": [0.2, 0.35], "nice": false, "zero": false}},
           "y": {"field": "v", "type": "quantitative", "scale": {"domain": [0, 110], "nice": false}, "axis": {"title": "Farmers' Positive Perception (%)", "orient": "right", "values": [0,20,40,60,80,100], "titleAngle": 270, "titleBaseline": "top", "titlePadding": 5}},
           "color": {"field": "m", "type": "nominal", "scale": {"domain": ["Dry year: % enough water","Dry year: % fair management","Wet year: % enough water","Wet year: % fair management","Normal year: % enough water","Normal year: % fair management"], "range": ["#a5484b","#a5484b","#2020c8","#2020c8","#2e8b2e","#2e8b2e"]}},
           "shape": {"field": "m", "type": "nominal", "scale": {"domain": ["Dry year: % enough water","Dry year: % fair management","Wet year: % enough water","Wet year: % fair management","Normal year: % enough water","Normal year: % fair management"], "range": ["circle","M-1,-1L1,1M1,-1L-1,1","circle","M-1,-1L1,1M1,-1L-1,1","circle","M-1,-1L1,1M1,-1L-1,1"]}}
         }}
      ],
      "resolve": {"scale": {"y": "independent"}}
    },
    {
      "title": "Koga (CA02)", "width": 467, "height": 212,
      "layer": [
        {"data": {"name": "bands"}, "transform": [{"filter": "datum.p == 'CA02'"}], "mark": {"type": "rect"},
         "encoding": {
           "x": {"field": "x0", "type": "quantitative", "scale": {"domain": [0.2, 0.35], "nice": false, "zero": false},
                 "axis": {"title": "Soil Moisture (m³/m³)", "values": [0.2,0.22,0.24,0.26,0.28,0.3,0.32,0.34], "format": ".2f"}},
           "x2": {"field": "x1"},
           "fill": {"field": "b", "type": "nominal", "scale": {"domain": ["Dry soil moisture","Normal soil moisture","Wet soil moisture"], "range": ["#ffb9b9","#d5e8d4","#daedf7"]}}
         }},
        {"data": {"name": "cdf"}, "transform": [{"filter": "datum.p == 'CA02'"}], "mark": {"type": "line", "strokeWidth": 1.6, "clip": true},
         "encoding": {
           "x": {"field": "x", "type": "quantitative", "scale": {"domain": [0.2, 0.35], "nice": false, "zero": false}},
           "y": {"field": "y", "type": "quantitative", "scale": {"domain": [0, 1.1], "nice": false}, "axis": {"title": "Cumulative Density", "orient": "left", "values": [0,0.2,0.4,0.6,0.8,1], "format": ".1f", "titlePadding": 9}},
           "stroke": {"field": "s", "type": "nominal", "scale": {"domain": ["Dry year","Wet year","Normal year"], "range": ["#e32626","#2222cc","#2a7d2a"]}}
         }},
        {"data": {"name": "marks"}, "transform": [{"filter": "datum.p == 'CA02'"}], "mark": {"type": "point", "filled": false, "size": 150, "strokeWidth": 1.3, "opacity": 1, "clip": true},
         "encoding": {
           "x": {"field": "x", "type": "quantitative", "scale": {"domain": [0.2, 0.35], "nice": false, "zero": false}},
           "y": {"field": "v", "type": "quantitative", "scale": {"domain": [0, 110], "nice": false}, "axis": {"title": "Farmers' Positive Perception (%)", "orient": "right", "values": [0,20,40,60,80,100], "titleAngle": 270, "titleBaseline": "top", "titlePadding": 5}},
           "color": {"field": "m", "type": "nominal", "scale": {"domain": ["Dry year: % enough water","Dry year: % fair management","Wet year: % enough water","Wet year: % fair management","Normal year: % enough water","Normal year: % fair management"], "range": ["#a5484b","#a5484b","#2020c8","#2020c8","#2e8b2e","#2e8b2e"]}},
           "shape": {"field": "m", "type": "nominal", "scale": {"domain": ["Dry year: % enough water","Dry year: % fair management","Wet year: % enough water","Wet year: % fair management","Normal year: % enough water","Normal year: % fair management"], "range": ["circle","M-1,-1L1,1M1,-1L-1,1","circle","M-1,-1L1,1M1,-1L-1,1","circle","M-1,-1L1,1M1,-1L-1,1"]}}
         }}
      ],
      "resolve": {"scale": {"y": "independent"}}
    },
    {
      "title": "Quashni (middle)", "width": 467, "height": 212,
      "layer": [
        {"data": {"name": "bands"}, "transform": [{"filter": "datum.p == 'MID'"}], "mark": {"type": "rect"},
         "encoding": {
           "x": {"field": "x0", "type": "quantitative", "scale": {"domain": [0.2, 0.32], "nice": false, "zero": false},
                 "axis": {"title": "Soil Moisture (m³/m³)", "values": [0.2,0.22,0.24,0.26,0.28,0.3,0.32], "format": ".2f"}},
           "x2": {"field": "x1"},
           "fill": {"field": "b", "type": "nominal", "scale": {"domain": ["Dry soil moisture","Normal soil moisture","Wet soil moisture"], "range": ["#ffb9b9","#d5e8d4","#daedf7"]}}
         }},
        {"data": {"name": "cdf"}, "transform": [{"filter": "datum.p == 'MID'"}], "mark": {"type": "line", "strokeWidth": 1.6, "clip": true},
         "encoding": {
           "x": {"field": "x", "type": "quantitative", "scale": {"domain": [0.2, 0.32], "nice": false, "zero": false}},
           "y": {"field": "y", "type": "quantitative", "scale": {"domain": [0, 1.1], "nice": false}, "axis": {"title": "Cumulative Density", "orient": "left", "values": [0,0.2,0.4,0.6,0.8,1], "format": ".1f", "titlePadding": 9}},
           "stroke": {"field": "s", "type": "nominal", "scale": {"domain": ["Dry year","Wet year","Normal year"], "range": ["#e32626","#2222cc","#2a7d2a"]}}
         }},
        {"data": {"name": "marks"}, "transform": [{"filter": "datum.p == 'MID'"}], "mark": {"type": "point", "filled": false, "size": 150, "strokeWidth": 1.3, "opacity": 1, "clip": true},
         "encoding": {
           "x": {"field": "x", "type": "quantitative", "scale": {"domain": [0.2, 0.32], "nice": false, "zero": false}},
           "y": {"field": "v", "type": "quantitative", "scale": {"domain": [0, 110], "nice": false}, "axis": {"title": "Farmers' Positive Perception (%)", "orient": "right", "values": [0,20,40,60,80,100], "titleAngle": 270, "titleBaseline": "top", "titlePadding": 5}},
           "color": {"field": "m", "type": "nominal", "scale": {"domain": ["Dry year: % enough water","Dry year: % fair management","Wet year: % enough water","Wet year: % fair management","Normal year: % enough water","Normal year: % fair management"], "range": ["#a5484b","#a5484b","#2020c8","#2020c8","#2e8b2e","#2e8b2e"]}},
           "shape": {"field": "m", "type": "nominal", "scale": {"domain": ["Dry year: % enough water","Dry year: % fair management","Wet year: % enough water","Wet year: % fair management","Normal year: % enough water","Normal year: % fair management"], "range": ["circle","M-1,-1L1,1M1,-1L-1,1","circle","M-1,-1L1,1M1,-1L-1,1","circle","M-1,-1L1,1M1,-1L-1,1"]}}
         }}
      ],
      "resolve": {"scale": {"y": "independent"}}
    },
    {
      "width": 467, "height": 212,
      "view": {"stroke": null},
      "data": {"values": [{"note": "(CDF => soil moisture)"}]},
      "mark": {"type": "text", "font": "DejaVu Sans", "fontSize": 36.5, "align": "center", "baseline": "middle", "dx": -37, "dy": 102, "color": "#111"},
      "encoding": {"text": {"field": "note", "type": "nominal"}}
    },
    {
      "title": "Quashni (downstream)", "width": 467, "height": 212,
      "layer": [
        {"data": {"name": "bands"}, "transform": [{"filter": "datum.p == 'DOWN'"}], "mark": {"type": "rect"},
         "encoding": {
           "x": {"field": "x0", "type": "quantitative", "scale": {"domain": [0.2, 0.32], "nice": false, "zero": false},
                 "axis": {"title": "Soil Moisture (m³/m³)", "values": [0.2,0.22,0.24,0.26,0.28,0.3,0.32], "format": ".2f"}},
           "x2": {"field": "x1"},
           "fill": {"field": "b", "type": "nominal", "scale": {"domain": ["Dry soil moisture","Normal soil moisture","Wet soil moisture"], "range": ["#ffb9b9","#d5e8d4","#daedf7"]}}
         }},
        {"data": {"name": "cdf"}, "transform": [{"filter": "datum.p == 'DOWN'"}], "mark": {"type": "line", "strokeWidth": 1.6, "clip": true},
         "encoding": {
           "x": {"field": "x", "type": "quantitative", "scale": {"domain": [0.2, 0.32], "nice": false, "zero": false}},
           "y": {"field": "y", "type": "quantitative", "scale": {"domain": [0, 1.1], "nice": false}, "axis": {"title": "Cumulative Density", "orient": "left", "values": [0,0.2,0.4,0.6,0.8,1], "format": ".1f", "titlePadding": 9}},
           "stroke": {"field": "s", "type": "nominal", "scale": {"domain": ["Dry year","Wet year","Normal year"], "range": ["#e32626","#2222cc","#2a7d2a"]}}
         }},
        {"data": {"name": "marks"}, "transform": [{"filter": "datum.p == 'DOWN'"}], "mark": {"type": "point", "filled": false, "size": 150, "strokeWidth": 1.3, "opacity": 1, "clip": true},
         "encoding": {
           "x": {"field": "x", "type": "quantitative", "scale": {"domain": [0.2, 0.32], "nice": false, "zero": false}},
           "y": {"field": "v", "type": "quantitative", "scale": {"domain": [0, 110], "nice": false}, "axis": {"title": "Farmers' Positive Perception (%)", "orient": "right", "values": [0,20,40,60,80,100], "titleAngle": 270, "titleBaseline": "top", "titlePadding": 5}},
           "color": {"field": "m", "type": "nominal", "scale": {"domain": ["Dry year: % enough water","Dry year: % fair management","Wet year: % enough water","Wet year: % fair management","Normal year: % enough water","Normal year: % fair management"], "range": ["#a5484b","#a5484b","#2020c8","#2020c8","#2e8b2e","#2e8b2e"]}},
           "shape": {"field": "m", "type": "nominal", "scale": {"domain": ["Dry year: % enough water","Dry year: % fair management","Wet year: % enough water","Wet year: % fair management","Normal year: % enough water","Normal year: % fair management"], "range": ["circle","M-1,-1L1,1M1,-1L-1,1","circle","M-1,-1L1,1M1,-1L-1,1","circle","M-1,-1L1,1M1,-1L-1,1"]}}
         }}
      ],
      "resolve": {"scale": {"y": "independent"}}
    }
  ],
  "config": {
    "font": "DejaVu Sans",
    "view": {"stroke": "#3a3a3a", "strokeWidth": 1},
    "axis": {"grid": false, "domain": false, "tickSize": 5, "tickColor": "#333", "tickWidth": 1, "labelFont": "DejaVu Sans", "labelFontSize": 10.5, "labelColor": "#222", "labelPadding": 4, "titleFont": "DejaVu Sans", "titleFontSize": 11.5, "titleFontWeight": "normal", "titleColor": "#222", "titlePadding": 8},
    "title": {"font": "DejaVu Sans", "fontSize": 15, "fontWeight": "normal", "color": "#222", "offset": 5},
    "legend": {"labelFont": "DejaVu Sans", "labelFontSize": 13.8, "labelColor": "#222", "padding": 0, "labelLimit": 400}
  }
}
